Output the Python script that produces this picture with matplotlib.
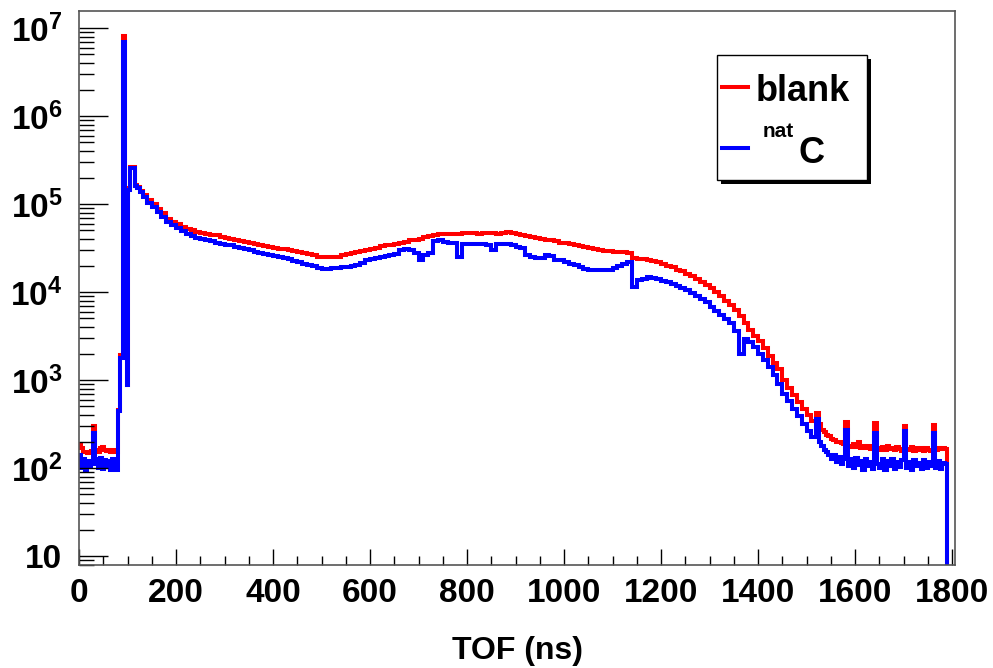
import matplotlib
matplotlib.use('Agg')
import matplotlib.pyplot as plt
import numpy as np
from matplotlib.patches import Rectangle
from matplotlib.lines import Line2D
from matplotlib.transforms import Affine2D
from matplotlib.ticker import MultipleLocator, LogLocator, FuncFormatter, NullFormatter

plt.rcParams['font.family'] = ['Liberation Sans', 'DejaVu Sans']
plt.rcParams['font.weight'] = 'bold'
plt.rcParams['mathtext.fontset'] = 'custom'
plt.rcParams['mathtext.rm'] = 'Liberation Sans:bold'
plt.rcParams['mathtext.bf'] = 'Liberation Sans:bold'
plt.rcParams['mathtext.it'] = 'Liberation Sans:bold'

# ---- data: TOF histogram (ns), counts per bin ----
head_edges = [0, 4, 8, 12, 16, 20, 24, 28, 32, 36, 40, 44, 48, 52, 56, 60, 64, 68, 72, 76,
              80, 84, 90, 94, 98, 102, 106, 116, 120, 126, 132]
body_edges = list(range(140, 1520, 10))
noise_edges = list(range(1520, 1790, 5))
tail_edges = [1790, 1806]

blank_noise = [185, 170, 150, 152, 148, 150, 155, 300, 158, 162,
               150, 168, 172, 160, 155, 162, 150, 160, 152, 150]
blank_peak = [460, 1900, 8.1e6, 1.05e5, 870, 1.5e5, 2.6e5, 1.65e5, 1.55e5, 1.42e5, 1.28e5]
blank_body = [
    1.12e5, 1.0e5, 8.8e4, 7.8e4, 6.8e4, 6.3e4, 5.9e4, 5.5e4, 5.2e4, 5.0e4,
    4.85e4, 4.7e4, 4.6e4, 4.5e4, 4.4e4, 4.25e4, 4.1e4, 4.0e4, 3.9e4, 3.8e4,
    3.7e4, 3.6e4, 3.5e4, 3.4e4, 3.35e4, 3.27e4, 3.2e4, 3.12e4, 3.05e4, 3.0e4,
    2.9e4, 2.82e4, 2.75e4, 2.7e4, 2.6e4, 2.5e4, 2.48e4, 2.47e4, 2.48e4, 2.5e4,
    2.6e4, 2.68e4, 2.75e4, 2.82e4, 2.9e4, 3.0e4, 3.1e4, 3.2e4, 3.3e4, 3.4e4,
    3.45e4, 3.5e4, 3.6e4, 3.7e4, 3.85e4, 3.9e4, 4.0e4, 4.2e4, 4.35e4, 4.5e4,
    4.55e4, 4.6e4, 4.6e4, 4.55e4, 4.6e4, 4.65e4, 4.65e4, 4.7e4, 4.6e4, 4.65e4,
    4.7e4, 4.65e4, 4.6e4, 4.7e4, 4.75e4, 4.7e4, 4.55e4, 4.45e4, 4.3e4, 4.2e4,
    4.1e4, 4.0e4, 3.9e4, 3.85e4, 3.75e4, 3.65e4, 3.57e4, 3.5e4, 3.4e4, 3.3e4,
    3.22e4, 3.15e4, 3.05e4, 3.0e4, 2.95e4, 2.9e4, 2.88e4, 2.87e4, 2.85e4, 2.75e4,
    2.42e4, 2.4e4, 2.36e4, 2.32e4, 2.27e4, 2.2e4, 2.1e4, 2.0e4, 1.9e4, 1.8e4,
    1.72e4, 1.62e4, 1.52e4, 1.42e4, 1.3e4, 1.2e4, 1.1e4, 9.9e3, 9.0e3, 8.0e3,
    7.1e3, 6.3e3, 5.3e3, 4.5e3, 3.7e3, 3.2e3, 2.8e3, 2.3e3, 1.85e3, 1.55e3,
    1.35e3, 1.0e3, 820, 680, 560, 470, 400, 345]
blank_tailnoise = [
    420, 320, 270, 255, 240, 230, 215, 210, 200, 195,
    190, 185, 330, 180, 175, 185, 175, 195, 170, 180,
    168, 178, 165, 172, 325, 170, 160, 175, 162, 178,
    165, 170, 160, 172, 165, 158, 300, 165, 160, 172,
    158, 168, 160, 170, 157, 168, 162, 158, 310, 162,
    168, 165, 170, 165]

natc_noise = [140, 100, 125, 95, 120, 105, 118, 250, 110, 125,
              100, 130, 98, 122, 104, 120, 96, 128, 102, 95]
natc_peak = [450, 1800, 6.9e6, 3.2e4, 870, 1.45e5, 2.55e5, 1.62e5, 1.5e5, 1.38e5, 1.2e5]
natc_body = [
    1.03e5, 9.2e4, 8.1e4, 7.2e4, 6.3e4, 5.7e4, 5.3e4, 4.9e4, 4.55e4, 4.3e4,
    4.1e4, 3.95e4, 3.85e4, 3.75e4, 3.62e4, 3.52e4, 3.45e4, 3.38e4, 3.25e4, 3.15e4,
    3.05e4, 2.98e4, 2.88e4, 2.78e4, 2.7e4, 2.62e4, 2.55e4, 2.48e4, 2.42e4, 2.35e4,
    2.25e4, 2.2e4, 2.1e4, 2.03e4, 1.95e4, 1.85e4, 1.82e4, 1.84e4, 1.85e4, 1.86e4,
    1.9e4, 1.93e4, 1.98e4, 2.05e4, 2.15e4, 2.28e4, 2.35e4, 2.45e4, 2.52e4, 2.55e4,
    2.6e4, 2.68e4, 3.0e4, 3.05e4, 3.0e4, 2.77e4, 2.3e4, 2.65e4, 2.75e4, 3.8e4,
    3.85e4, 3.7e4, 3.65e4, 3.6e4, 2.5e4, 3.5e4, 3.55e4, 3.5e4, 3.55e4, 3.5e4,
    3.45e4, 3.0e4, 3.5e4, 3.55e4, 3.5e4, 3.4e4, 3.27e4, 3.2e4, 2.6e4, 2.5e4,
    2.43e4, 2.45e4, 2.63e4, 2.55e4, 2.31e4, 2.28e4, 2.2e4, 2.08e4, 2.03e4, 1.92e4,
    1.82e4, 1.78e4, 1.77e4, 1.78e4, 1.78e4, 1.8e4, 1.86e4, 1.95e4, 2.08e4, 2.22e4,
    1.15e4, 1.37e4, 1.42e4, 1.47e4, 1.45e4, 1.4e4, 1.35e4, 1.3e4, 1.24e4, 1.18e4,
    1.12e4, 1.05e4, 9.8e3, 9.0e3, 8.3e3, 7.6e3, 6.8e3, 6.1e3, 5.5e3, 4.9e3,
    4.4e3, 3.6e3, 2.0e3, 2.9e3, 2.7e3, 2.4e3, 1.95e3, 1.7e3, 1.4e3, 1.15e3,
    900, 700, 580, 470, 390, 320, 265, 225]
natc_tailnoise = [
    365, 200, 180, 160, 150, 140, 128, 140, 118, 132,
    110, 128, 270, 105, 125, 100, 130, 108, 120, 96,
    125, 104, 118, 98, 250, 112, 100, 125, 96, 120,
    105, 128, 98, 118, 102, 122, 265, 100, 118, 96,
    124, 104, 115, 97, 122, 100, 118, 105, 250, 100,
    120, 98, 115, 110]

empty_tail = [1]

edges = np.array(head_edges + body_edges + noise_edges + tail_edges, dtype=float)
blank = np.array(blank_noise + blank_peak + blank_body + blank_tailnoise + empty_tail, dtype=float)
natc = np.array(natc_noise + natc_peak + natc_body + natc_tailnoise + empty_tail, dtype=float)

W, H = 993, 668
fig = plt.figure(figsize=(W / 100, H / 100), dpi=100)
ax = fig.add_axes([79 / W, 1 - 565 / H, (955 - 79) / W, (565 - 11) / H])

h_blank = ax.stairs(blank, edges, baseline=None, color='#ff0000', lw=2.9)
h_natc = ax.stairs(natc, edges, baseline=None, color='#0000ff', lw=2.9)

ax.set_yscale('log')
ax.set_xlim(0, 1806)
ax.set_ylim(7.9, 1.56e7)

ax.xaxis.set_major_locator(MultipleLocator(200))
ax.xaxis.set_minor_locator(MultipleLocator(50))
ax.yaxis.set_major_locator(LogLocator(base=10, numticks=20))
ax.yaxis.set_minor_locator(LogLocator(base=10, subs=np.arange(2, 10), numticks=20))
ax.yaxis.set_minor_formatter(NullFormatter())


def ylab(v, pos):
    e = int(round(np.log10(v)))
    if e == 1:
        return '10'
    return r'$\mathbf{10^{%d}}$' % e


ax.yaxis.set_major_formatter(FuncFormatter(ylab))

ax.tick_params(axis='x', which='major', direction='in', length=11.5, width=1,
               pad=9, labelsize=24, top=False)
ax.tick_params(axis='x', which='minor', direction='in', length=6.5, width=1, top=False)
ax.tick_params(axis='y', which='major', direction='in', length=21, width=1,
               pad=12, labelsize=24, right=False)
ax.tick_params(axis='y', which='minor', direction='in', length=11, width=1, right=False)
for lab in ax.get_xticklabels() + ax.get_yticklabels():
    lab.set_fontweight('bold')

for s in ax.spines.values():
    s.set_color('#555555')
    s.set_linewidth(1.2)

ax.set_xlabel('TOF (ns)', fontsize=23, fontweight='bold', labelpad=20)

# legend box in pixel coordinates (ROOT style, with hard shadow)
px = Affine2D().scale(1 / W, -1 / H).translate(0, 1) + fig.transFigure
fig.add_artist(Rectangle((721, 59), 150, 125, transform=px, facecolor='black',
                         edgecolor='none', zorder=5))
fig.add_artist(Rectangle((717, 55), 150, 125, transform=px, facecolor='white',
                         edgecolor='black', lw=1, zorder=6))
fig.add_artist(Line2D([722, 748], [87, 87], transform=px,
                      color=h_blank.get_edgecolor(), lw=2.9, zorder=7))
fig.add_artist(Line2D([722, 748], [148, 148], transform=px,
                      color=h_natc.get_edgecolor(), lw=2.9, zorder=7))
fig.text(756 / W, 1 - 101 / H, 'blank', fontsize=26, fontweight='bold',
         ha='left', va='baseline', zorder=8)
fig.text(763 / W, 1 - 137 / H, 'nat', fontsize=15, fontweight='bold',
         ha='left', va='baseline', zorder=8)
fig.text(798 / W, 1 - 163 / H, 'C', fontsize=26, fontweight='bold',
         ha='left', va='baseline', zorder=8)

fig.savefig('out.png', dpi=100)
